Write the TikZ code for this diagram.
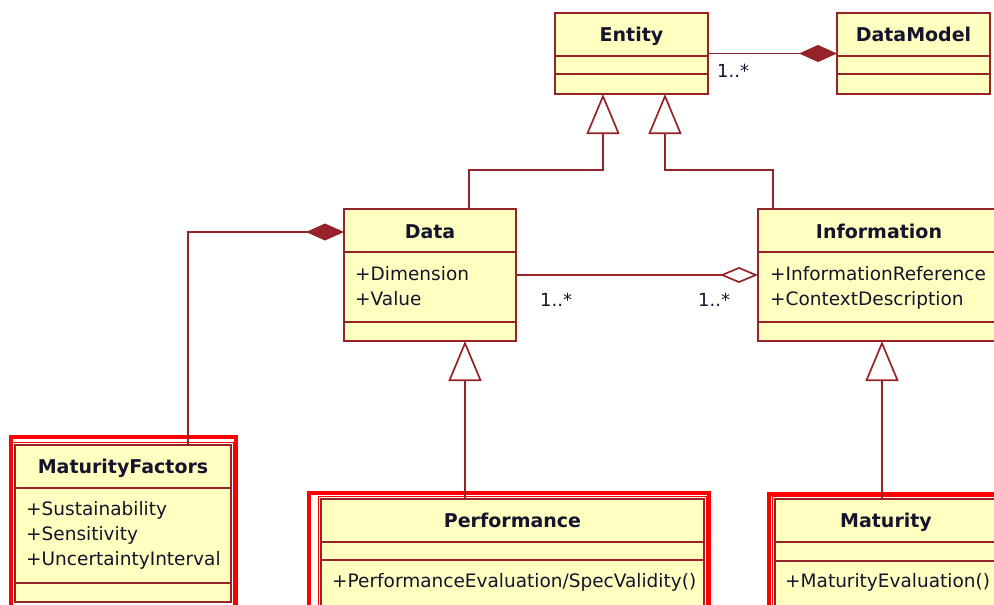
\documentclass[tikz,border=0pt]{standalone}
\usepackage{fontspec}
\setmainfont{DejaVu Sans}
\usetikzlibrary{arrows.meta}
\definecolor{umlline}{RGB}{150,35,40}
\definecolor{umlfill}{RGB}{255,255,192}
\definecolor{umltext}{RGB}{20,20,45}
\definecolor{hlred}{RGB}{255,0,0}
\begin{document}
\begin{tikzpicture}[x=1pt,y=-1pt,
  classbox/.style={draw=umlline, fill=umlfill, line width=1.9pt, inner sep=0pt, outer sep=0pt, rectangle},
  divider/.style={draw=umlline, line width=1.7pt},
  cname/.style={font=\bfseries\fontsize{19}{22}\selectfont, text=umltext, inner sep=0pt, anchor=base},
  attr/.style={font=\fontsize{18.5}{22}\selectfont, text=umltext, inner sep=0pt, anchor=base west},
  mult/.style={font=\fontsize{18}{22}\selectfont, text=umltext, inner sep=0pt, anchor=base west},
  conn/.style={draw=umlline, line width=1.8pt, line join=miter},
  gen/.style={conn, -{Triangle[open, length=40pt, width=33pt, fill=white, line width=1.7pt]}},
  compo/.style={conn, -{Diamond[length=38pt, width=17pt, fill=umlline, line width=1.2pt]}},
  aggr/.style={conn, -{Diamond[open, length=38pt, width=16pt, fill=white, line width=1.7pt]}},
  hlouter/.style={draw=hlred, line width=4pt},
  hlinner/.style={draw=hlred, line width=1.5pt}
]
\path[use as bounding box] (0,0) rectangle (994,605);
\clip (0,0) rectangle (994,605);
\fill[white] (0,0) rectangle (994,605);

% highlight frames
\draw[hlouter] (11,437) rectangle (236,660);
\draw[hlinner] (12.5,442.5) rectangle (233.5,660);
\draw[hlouter] (309,493) rectangle (709,660);
\draw[hlinner] (318.5,496.5) rectangle (706.5,660);
\draw[hlouter] (769,494) rectangle (1010,660);
\draw[hlinner] (772.5,496.5) rectangle (1010,660);

% class boxes
\node[classbox, minimum width=153pt, minimum height=81pt] (entity) at (631.5,53.5) {};
\node[classbox, minimum width=153pt, minimum height=81pt] (datamodel) at (913.5,53.5) {};
\node[classbox, minimum width=172pt, minimum height=132pt] (data) at (430,275) {};
\node[classbox, minimum width=242pt, minimum height=132pt] (info) at (879,275) {};
\node[classbox, minimum width=216pt, minimum height=157pt] (mf) at (123,523.5) {};
\node[classbox, minimum width=383pt, minimum height=141pt] (perf) at (512.5,569.5) {};
\node[classbox, minimum width=222pt, minimum height=141pt] (mat) at (886,569.5) {};

% dividers
\draw[divider] (entity.west |- 0,56) -- (entity.east |- 0,56);
\draw[divider] (entity.west |- 0,74) -- (entity.east |- 0,74);
\draw[divider] (datamodel.west |- 0,56) -- (datamodel.east |- 0,56);
\draw[divider] (datamodel.west |- 0,74) -- (datamodel.east |- 0,74);
\draw[divider] (data.west |- 0,252) -- (data.east |- 0,252);
\draw[divider] (data.west |- 0,322) -- (data.east |- 0,322);
\draw[divider] (info.west |- 0,252) -- (info.east |- 0,252);
\draw[divider] (info.west |- 0,322) -- (info.east |- 0,322);
\draw[divider] (mf.west |- 0,488) -- (mf.east |- 0,488);
\draw[divider] (mf.west |- 0,583) -- (mf.east |- 0,583);
\draw[divider] (perf.west |- 0,542) -- (perf.east |- 0,542);
\draw[divider] (perf.west |- 0,560) -- (perf.east |- 0,560);
\draw[divider] (mat.west |- 0,542) -- (mat.east |- 0,542);
\draw[divider] (mat.west |- 0,561) -- (mat.east |- 0,561);

% names
\node[cname] (entityname) at (631.5,41.5) {Entity};
\node[cname] (datamodelname) at (913.5,41.5) {DataModel};
\node[cname] (dataname) at (430,238) {Data};
\node[cname] (infoname) at (879,238) {Information};
\node[cname] (mfname) at (123,473) {MaturityFactors};
\node[cname] (perfname) at (512.5,527) {Performance};
\node[cname] (matname) at (886,527) {Maturity};

% attributes / operations
\node[attr] (dataa1) at (355,280) {+Dimension};
\node[attr] (dataa2) at (355,305) {+Value};
\node[attr] (infoa1) at (770,280) {+InformationReference};
\node[attr] (infoa2) at (770,305) {+ContextDescription};
\node[attr] (mfa1) at (26,515) {+Sustainability};
\node[attr] (mfa2) at (26,540) {+Sensitivity};
\node[attr] (mfa3) at (26,565) {+UncertaintyInterval};
\node[attr] (perfo1) at (332,587) {+PerformanceEvaluation/SpecValidity()};
\node[attr] (mato1) at (785,587) {+MaturityEvaluation()};

% connectors
\draw[compo] (entity.east) -- (datamodel.west);
\node[mult] (m1) at (717,77) {1..*};
\draw[aggr] (data.east) -- (info.west);
\node[mult] (m2) at (540,306) {1..*};
\node[mult] (m3) at (698,306) {1..*};

\coordinate (mfbend) at (188,232);
\draw[compo] (mf.north -| mfbend) |- (data.west |- mfbend);

\coordinate (g1) at (469,170);
\coordinate (g2) at (603,170);
\draw[gen] (data.north -| g1) -- (g1) -- (g2) -- (entity.south -| g2);
\coordinate (g3) at (773,170);
\coordinate (g4) at (665,170);
\draw[gen] (info.north -| g3) -- (g3) -- (g4) -- (entity.south -| g4);
\coordinate (g5) at (465,0);
\draw[gen] (perf.north -| g5) -- (data.south -| g5);
\coordinate (g6) at (882,0);
\draw[gen] (mat.north -| g6) -- (info.south -| g6);
\end{tikzpicture}
\end{document}
